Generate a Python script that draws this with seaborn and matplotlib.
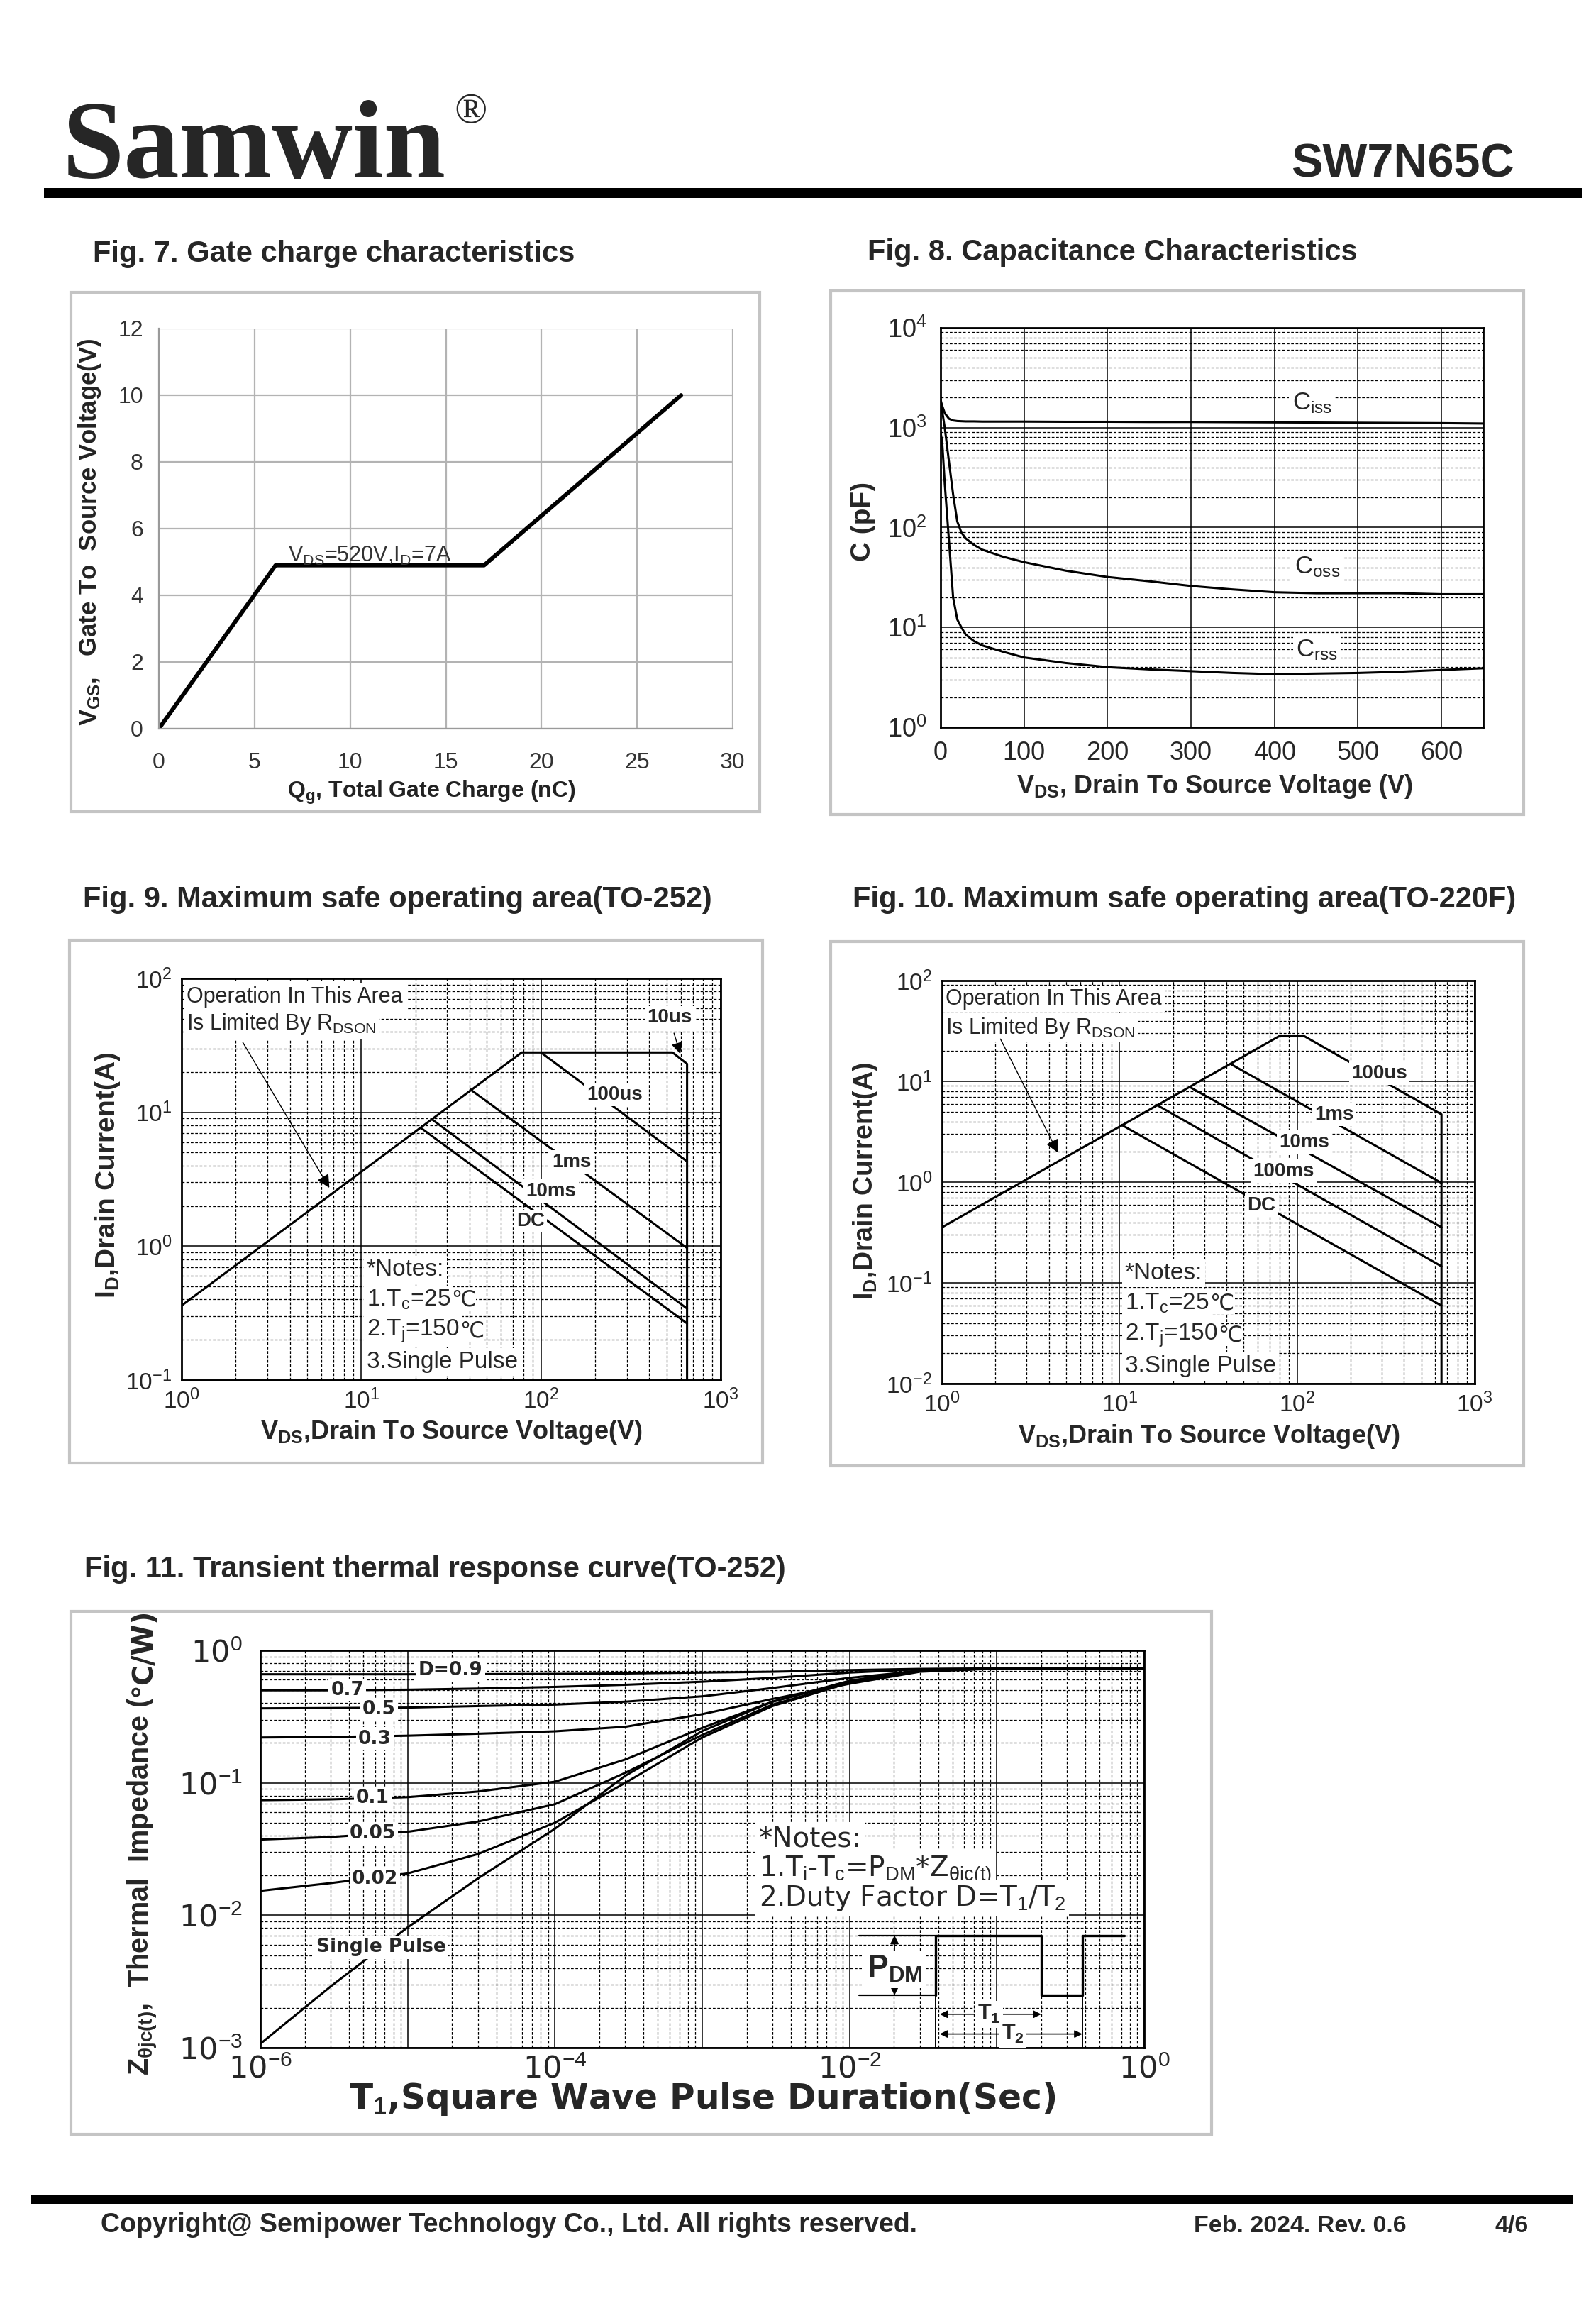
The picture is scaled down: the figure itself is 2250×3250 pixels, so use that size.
import numpy as np
import pandas as pd
import matplotlib
matplotlib.use("Agg")
import matplotlib.pyplot as plt
import seaborn as sns
from matplotlib import font_manager
from matplotlib.patches import Rectangle
from matplotlib.ticker import LogLocator, NullFormatter

# ---------------- data ----------------
# Fig. 7 gate charge
qg_nc = [0, 6.1, 17.0, 27.3]
vgs_v = [0, 4.9, 4.9, 10.0]

# Fig. 8 capacitance
vds_cap = [0, 2, 5, 10, 15, 20, 25, 30, 40, 50, 75, 100, 150, 200, 250, 300, 350, 400, 450, 500, 550, 600, 650]
ciss_pf = [1900, 1650, 1400, 1230, 1180, 1165, 1160, 1155, 1155, 1150, 1150, 1150, 1145, 1145, 1140, 1140,
           1135, 1130, 1125, 1120, 1115, 1110, 1100]
coss_pf = [1800, 1450, 1000, 460, 215, 115, 89, 78, 67, 60, 51, 45, 37, 32, 29, 26, 24, 22.5, 22, 22, 22, 21.5, 21.5]
crss_pf = [900, 700, 275, 75, 20, 12, 10, 8.5, 7.3, 6.6, 5.7, 5.0, 4.4, 4.0, 3.8, 3.65, 3.5, 3.4, 3.45, 3.5,
           3.6, 3.75, 3.9]

# Fig. 9 SOA TO-252
soa9_env_v = [1, 78, 540, 650, 650]
soa9_env_i = [0.36, 28, 28, 23, 0.1]
soa9_100us = ([100, 650], [28, 4.3])
soa9_1ms = ([40.5, 650], [14.8, 0.97])
soa9_10ms = ([24.7, 650], [8.87, 0.342])
soa9_dc = ([21.6, 650], [7.6, 0.265])

# Fig. 10 SOA TO-220F
soa10_env_v = [1, 79, 110, 650, 650]
soa10_env_i = [0.356, 28, 28, 4.7, 0.01]
soa10_1ms = ([42.7, 650], [14.7, 0.98])
soa10_10ms = ([24.8, 650], [8.8, 0.356])
soa10_100ms = ([16.4, 650], [5.76, 0.146])
soa10_dc = ([10.26, 650], [3.7, 0.0594])

# Fig. 11 transient thermal impedance
t_sec = [1e-6, 3e-6, 1e-5, 3e-5, 1e-4, 3e-4, 1e-3, 3e-3, 1e-2, 3e-2, 1e-1, 3e-1, 1.0]
zth_d09 = [0.66, 0.66, 0.66, 0.662, 0.665, 0.67, 0.68, 0.69, 0.71, 0.725, 0.73, 0.73, 0.73]
zth_d07 = [0.50, 0.50, 0.505, 0.515, 0.53, 0.55, 0.58, 0.62, 0.68, 0.72, 0.73, 0.73, 0.73]
zth_d05 = [0.365, 0.367, 0.37, 0.38, 0.39, 0.41, 0.45, 0.52, 0.62, 0.70, 0.73, 0.73, 0.73]
zth_d03 = [0.22, 0.222, 0.227, 0.235, 0.245, 0.265, 0.33, 0.43, 0.56, 0.69, 0.73, 0.73, 0.73]
zth_d01 = [0.074, 0.075, 0.078, 0.086, 0.102, 0.15, 0.26, 0.41, 0.59, 0.71, 0.73, 0.73, 0.73]
zth_d005 = [0.0373, 0.039, 0.0427, 0.051, 0.069, 0.119, 0.23, 0.39, 0.57, 0.70, 0.73, 0.73, 0.73]
zth_d002 = [0.0153, 0.0175, 0.0207, 0.029, 0.050, 0.10, 0.22, 0.38, 0.57, 0.70, 0.73, 0.73, 0.73]
zth_single = [1.07e-3, 2.9e-3, 8.1e-3, 0.019, 0.045, 0.113, 0.246, 0.41, 0.58, 0.70, 0.73, 0.73, 0.73]

# pulse sketch in fig. 11 (time, Z levels)
pulse_t = [0.0386, 0.0386, 0.20, 0.20, 0.38, 0.38, 0.73]
pulse_lo, pulse_hi = 2.49e-3, 7.05e-3
pulse_z = [pulse_lo, pulse_hi, pulse_hi, pulse_lo, pulse_lo, pulse_hi, pulse_hi]

lin_ticks_7x = [0, 5, 10, 15, 20, 25, 30]
lin_ticks_7y = [0, 2, 4, 6, 8, 10, 12]
cap_ticks_x = [0, 100, 200, 300, 400, 500, 600]
cap_ticks_y = [1, 10, 100, 1000, 10000]
cap_labels_y = ['10$^{0}$', '10$^{1}$', '10$^{2}$', '10$^{3}$', '10$^{4}$']
soa_ticks_x = [1, 10, 100, 1000]
soa_labels_x = ['10$^{0}$', '10$^{1}$', '10$^{2}$', '10$^{3}$']
soa9_ticks_y = [0.1, 1, 10, 100]
soa9_labels_y = ['10$^{-1}$', '10$^{0}$', '10$^{1}$', '10$^{2}$']
soa10_ticks_y = [0.01, 0.1, 1, 10, 100]
soa10_labels_y = ['10$^{-2}$', '10$^{-1}$', '10$^{0}$', '10$^{1}$', '10$^{2}$']
zth_ticks_x = [1e-6, 1e-5, 1e-4, 1e-3, 1e-2, 1e-1, 1]
zth_labels_x = ['10$^{-6}$', '', '10$^{-4}$', '', '10$^{-2}$', '', '10$^{0}$']
zth_ticks_y = [1e-3, 1e-2, 1e-1, 1]
zth_labels_y = ['10$^{-3}$', '10$^{-2}$', '10$^{-1}$', '10$^{0}$']

# ---------------- style ----------------
sns.set_theme(style="white")
FAMILY = ['Liberation Sans', 'DejaVu Sans', 'Noto Sans CJK SC']
plt.rcParams['font.family'] = FAMILY
plt.rcParams.update({
    'mathtext.fontset': 'custom',
    'mathtext.rm': 'Liberation Sans',
    'mathtext.it': 'Liberation Sans:italic',
    'mathtext.bf': 'Liberation Sans:bold',
    'mathtext.sf': 'Liberation Sans',
    'mathtext.fallback': 'stix',
})

names = {f.name for f in font_manager.fontManager.ttflist}
HAS_NARROW = 'Liberation Sans Narrow' in names
NARROW = ['Liberation Sans Narrow'] + FAMILY if HAS_NARROW else FAMILY
CELSIUS_FAM = ['DejaVu Sans', 'Noto Sans CJK SC']


def nsz(size):
    return size * 1.2 if HAS_NARROW else size


W, H = 2250, 3250
fig = plt.figure(figsize=(W / 100, H / 100), dpi=100)
fig.patch.set_facecolor('white')


def px_axes(l, t, r, b):
    return fig.add_axes([l / W, 1 - b / H, (r - l) / W, (b - t) / H])


def ftext(x, y, s, **kw):
    return fig.text(x / W, 1 - y / H, s, **kw)


def frame(l, t, r, b, **kw):
    fig.add_artist(Rectangle((l / W, 1 - b / H), (r - l) / W, (b - t) / H,
                             transform=fig.transFigure, **kw))


WHITE = dict(boxstyle='square,pad=0.12', fc='white', ec='none')

# ---------------- header / footer ----------------
ftext(88, 250, "Samwin", family='Liberation Serif', fontweight='bold', fontsize=113, va='baseline')
ftext(640, 130, "®", family='Liberation Serif', fontsize=44, va='top')
ftext(2135, 250, "SW7N65C", family=NARROW, fontweight='bold', fontsize=nsz(48), ha='right', va='baseline')
frame(62, 265, 2230, 279, fc='black', ec='none')
frame(44, 3093, 2217, 3106, fc='black', ec='none')
ftext(142, 3146, "Copyright@ Semipower Technology Co., Ltd. All rights reserved.", family=NARROW,
      fontweight='bold', fontsize=nsz(27), va='baseline')
ftext(1683, 3146, "Feb. 2024. Rev. 0.6", family=NARROW, fontweight='bold', fontsize=nsz(24.5), va='baseline')
ftext(2108, 3146, "4/6", family=NARROW, fontweight='bold', fontsize=nsz(24.5), va='baseline')

# panel titles
ftext(131, 369, "Fig. 7. Gate charge characteristics", fontsize=30, fontweight='bold', va='baseline')
ftext(1223, 367, "Fig. 8. Capacitance Characteristics", fontsize=30, fontweight='bold', va='baseline')
ftext(117, 1279, "Fig. 9. Maximum safe operating area(TO-252)", fontsize=30, fontweight='bold', va='baseline')
ftext(1202, 1279, "Fig. 10. Maximum safe operating area(TO-220F)", fontsize=30, fontweight='bold', va='baseline')
ftext(119, 2223, "Fig. 11. Transient thermal response curve(TO-252)", fontsize=30, fontweight='bold', va='baseline')

# panel frames
for box in [(100, 412, 1071, 1144), (1171, 410, 2148, 1148), (98, 1325, 1075, 2062),
            (1171, 1327, 2148, 2066), (100, 2271, 1708, 3008)]:
    frame(*box, fill=False, ec='#c4c4c4', lw=3)

# ---------------- Fig. 7 ----------------
ax7 = px_axes(224, 463, 1033, 1027)
sns.lineplot(x=qg_nc, y=vgs_v, ax=ax7, color='black', lw=4.2, sort=False, estimator=None)
ax7.set_xlim(0, 30)
ax7.set_ylim(0, 12)
ax7.set_xticks(lin_ticks_7x)
ax7.set_yticks(lin_ticks_7y)
ax7.grid(True, color='#b3b3b3', lw=1.6)
for side, sp in ax7.spines.items():
    sp.set_visible(side in ('left', 'bottom'))
    sp.set_color('#9a9a9a')
    sp.set_linewidth(1.6)
ax7.tick_params(axis='x', length=0, pad=24, labelsize=nsz(23), labelcolor='#333333')
ax7.tick_params(axis='y', length=0, pad=16, labelsize=nsz(23), labelcolor='#333333')
for lbl in ax7.get_xticklabels() + ax7.get_yticklabels():
    lbl.set_family(NARROW)
ax7.set_xlabel('')
ax7.set_ylabel('')
ax7.text(6.75, 5.0, r"V$_{\rm DS}$=520V,I$_{\rm D}$=7A", family=NARROW, fontsize=nsz(22),
         color='#333333', va='baseline')
ftext(608, 1117, r"Q$_{\mathbf{g}}$, Total Gate Charge (nC)", family=NARROW, fontweight='bold',
      fontsize=nsz(23), ha='center', va='center', color='#222222')
ftext(127, 750, r"V$_{\mathbf{GS}}$,   Gate To  Source Voltage(V)", family=NARROW, fontweight='bold',
      fontsize=nsz(25), rotation=90, ha='center', va='center', color='#222222')


def log_style(ax, lw=2):
    for sp in ax.spines.values():
        sp.set_color('black')
        sp.set_linewidth(lw)
    ax.tick_params(which='major', direction='in', length=12, width=1.5, color='black')
    ax.tick_params(which='minor', direction='in', length=7, width=1.2, color='black')
    ax.set_xlabel('')
    ax.set_ylabel('')


def add_celsius(ax, t, size):
    # the degree-Celsius sign is missing from the math fonts, so it is appended as plain text
    ax.annotate("℃", xy=(1, 0.5), xycoords=t, xytext=(0.5, 0), textcoords='offset points',
                ha='left', va='center', fontsize=size, family=CELSIUS_FAM,
                bbox=dict(boxstyle='square,pad=0.02', fc='white', ec='none'))


# ---------------- Fig. 8 ----------------
ax8 = px_axes(1326, 462, 2091, 1025)
ax8.set_yscale('log')
df8 = pd.DataFrame({'V': vds_cap, 'Ciss': ciss_pf, 'Coss': coss_pf, 'Crss': crss_pf}).melt(
    'V', var_name='cap', value_name='C')
sns.lineplot(data=df8, x='V', y='C', units='cap', estimator=None, color='black', lw=2.2,
             ax=ax8, legend=False, sort=False)
ax8.set_xlim(0, 650)
ax8.set_ylim(1, 1e4)
ax8.set_xticks(cap_ticks_x, labels=[str(v) for v in cap_ticks_x], fontsize=26)
ax8.set_xticks(list(range(50, 650, 100)), minor=True)
ax8.set_yticks(cap_ticks_y, labels=cap_labels_y, fontsize=26)
ax8.yaxis.set_minor_locator(LogLocator(base=10, subs=np.arange(2, 10), numticks=50))
ax8.yaxis.set_minor_formatter(NullFormatter())
ax8.grid(which='major', color='black', lw=1.1)
ax8.grid(which='minor', axis='y', color='black', lw=0.9, ls=(0, (3, 2)))
log_style(ax8)
ax8.tick_params(axis='x', pad=14)
ax8.tick_params(axis='y', pad=14)
ax8.text(445, 1760, r"C$_{\rm iss}$", fontsize=25, ha='center', va='center', bbox=WHITE)
ax8.text(451, 40, r"C$_{\rm oss}$", fontsize=25, ha='center', va='center', bbox=WHITE)
ax8.text(451, 5.9, r"C$_{\rm rss}$", fontsize=25, ha='center', va='center', bbox=WHITE)
ftext(1217, 735, "C (pF)", fontsize=28, fontweight='bold', rotation=90, ha='center', va='center')
ftext(1712, 1108, r"V$_{\mathbf{DS}}$, Drain To Source Voltage (V)", fontsize=26, fontweight='bold',
      ha='center', va='center')


# ---------------- Fig. 9 / 10 ----------------
def soa_axes(ax, env_v, env_i, segs, yticks, ylabels, ymin):
    ax.set_xscale('log')
    ax.set_yscale('log')
    sns.lineplot(x=env_v, y=env_i, ax=ax, color='black', lw=2.2, sort=False, estimator=None)
    for v, i in segs:
        sns.lineplot(x=v, y=i, ax=ax, color='black', lw=2.2, sort=False, estimator=None)
    ax.set_xlim(1, 1000)
    ax.set_ylim(ymin, 100)
    ax.set_xticks(soa_ticks_x, labels=soa_labels_x, fontsize=nsz(24), family=NARROW)
    ax.set_yticks(yticks, labels=ylabels, fontsize=nsz(24), family=NARROW)
    for axis in (ax.xaxis, ax.yaxis):
        axis.set_minor_locator(LogLocator(base=10, subs=np.arange(2, 10), numticks=50))
        axis.set_minor_formatter(NullFormatter())
    ax.grid(which='major', color='black', lw=1.1)
    ax.grid(which='minor', color='black', lw=0.9, ls=(0, (3, 2)))
    log_style(ax)
    ax.tick_params(axis='x', pad=9)
    ax.tick_params(axis='y', pad=10)


def soa_notes(ax, x, ys):
    ax.text(x, ys[0], "*Notes:", fontsize=24, va='center', ha='left', bbox=WHITE)
    t1 = ax.text(x, ys[1], "1.T$_{\\rm c}$=25", fontsize=24, va='center', ha='left', bbox=WHITE)
    add_celsius(ax, t1, 22)
    t2 = ax.text(x, ys[2], "2.T$_{\\rm j}$=150", fontsize=24, va='center', ha='left', bbox=WHITE)
    add_celsius(ax, t2, 22)
    ax.text(x, ys[3], "3.Single Pulse", fontsize=24, va='center', ha='left', bbox=WHITE)


ax9 = px_axes(256, 1379, 1016, 1945)
soa_axes(ax9, soa9_env_v, soa9_env_i, [soa9_100us, soa9_1ms, soa9_10ms, soa9_dc],
         soa9_ticks_y, soa9_labels_y, 0.1)
ax9.text(1.07, 73, "Operation In This Area", fontsize=22, va='center', bbox=WHITE)
ax9.text(1.07, 45.7, r"Is Limited By R$_{\rm DSON}$", fontsize=22, va='center', bbox=WHITE)
ax9.annotate('', xy=(6.73, 2.65), xytext=(2.16, 34.4),
             arrowprops=dict(arrowstyle='-|>', color='black', lw=1.0, mutation_scale=28))
ax9.annotate('10us', xy=(600, 26.5), xytext=(518, 50.9), fontsize=20, fontweight='bold',
             ha='center', va='center', bbox=WHITE,
             arrowprops=dict(arrowstyle='-|>', color='black', lw=1.0, mutation_scale=24, shrinkA=4))
for s, xy in [("100us", (257, 13.5)), ("1ms", (148, 4.25)), ("10ms", (114, 2.58)), ("DC", (87.5, 1.54))]:
    ax9.text(*xy, s, fontsize=20, fontweight='bold', ha='center', va='center', bbox=WHITE)
soa_notes(ax9, 10.7, [0.664, 0.398, 0.231, 0.137])
ftext(152, 1656, r"I$_{\mathbf{D}}$,Drain Current(A)", fontsize=28, fontweight='bold', rotation=90,
      ha='center', va='center')
ftext(636, 2018, r"V$_{\mathbf{DS}}$,Drain To Source Voltage(V)", fontsize=26, fontweight='bold',
      ha='center', va='center')

ax10 = px_axes(1328, 1382, 2079, 1950)
soa_axes(ax10, soa10_env_v, soa10_env_i, [soa10_1ms, soa10_10ms, soa10_100ms, soa10_dc],
         soa10_ticks_y, soa10_labels_y, 0.01)
ax10.text(1.05, 66, "Operation In This Area", fontsize=22, va='center', bbox=WHITE)
ax10.text(1.05, 34, r"Is Limited By R$_{\rm DSON}$", fontsize=22, va='center', bbox=WHITE)
ax10.annotate('', xy=(4.55, 1.88), xytext=(2.11, 27.4),
              arrowprops=dict(arrowstyle='-|>', color='black', lw=1.0, mutation_scale=28))
for s, xy in [("100us", (290, 12)), ("1ms", (161, 4.7)), ("10ms", (110, 2.49)),
              ("100ms", (84, 1.28)), ("DC", (62.7, 0.59))]:
    ax10.text(*xy, s, fontsize=20, fontweight='bold', ha='center', va='center', bbox=WHITE)
soa_notes(ax10, 10.7, [0.124, 0.063, 0.030, 0.0149])
ftext(1220, 1664, r"I$_{\mathbf{D}}$,Drain Current(A)", fontsize=27, fontweight='bold', rotation=90,
      ha='center', va='center')
ftext(1704, 2025, r"V$_{\mathbf{DS}}$,Drain To Source Voltage(V)", fontsize=26, fontweight='bold',
      ha='center', va='center')

# ---------------- Fig. 11 ----------------
ax11 = px_axes(367, 2326, 1613, 2886)
ax11.set_xscale('log')
ax11.set_yscale('log')
df11 = pd.DataFrame({'t': t_sec, '0.9': zth_d09, '0.7': zth_d07, '0.5': zth_d05, '0.3': zth_d03,
                     '0.1': zth_d01, '0.05': zth_d005, '0.02': zth_d002, 'single': zth_single})
df11 = df11.melt('t', var_name='duty', value_name='z')
sns.lineplot(data=df11, x='t', y='z', units='duty', estimator=None, color='black', lw=2.2,
             ax=ax11, legend=False, sort=False)
ax11.set_xlim(1e-6, 1)
ax11.set_ylim(1e-3, 1)
ax11.set_xticks(zth_ticks_x, labels=zth_labels_x, fontsize=31, family='DejaVu Sans')
ax11.set_yticks(zth_ticks_y, labels=zth_labels_y, fontsize=31, family='DejaVu Sans')
for axis in (ax11.xaxis, ax11.yaxis):
    axis.set_minor_locator(LogLocator(base=10, subs=np.arange(2, 10), numticks=80))
    axis.set_minor_formatter(NullFormatter())
ax11.grid(which='major', color='black', lw=1.1)
ax11.grid(which='minor', color='black', lw=0.9, ls=(0, (3, 2)))
log_style(ax11)
ax11.tick_params(axis='x', pad=7)
ax11.tick_params(axis='y', pad=18)

WIDE_B = dict(family='DejaVu Sans', fontweight='bold', fontsize=19, ha='center', va='center', bbox=WHITE)
for s, xy in [("D=0.9", (1.96e-5, 0.708)), ("0.7", (3.9e-6, 0.502)), ("0.5", (6.4e-6, 0.358)),
              ("0.3", (6.0e-6, 0.215)), ("0.1", (5.8e-6, 0.0771)), ("0.05", (5.8e-6, 0.0414)),
              ("0.02", (6.0e-6, 0.0189)), ("Single Pulse", (6.6e-6, 5.74e-3))]:
    ax11.text(*xy, s, **WIDE_B)

note_kw = dict(family='DejaVu Sans', fontsize=28, ha='left', va='center', bbox=WHITE)
ax11.text(2.43e-3, 0.0378, "*Notes:", **note_kw)
ax11.text(2.43e-3, 0.0219, r"1.T$_{\rm j}$-T$_{\rm c}$=P$_{\rm DM}$*Z$_{\rm θjc(t)}$", **note_kw)
ax11.text(2.43e-3, 0.0135, r"2.Duty Factor D=T$_{\rm 1}$/T$_{\rm 2}$", **note_kw)

# pulse sketch
ax11.plot(pulse_t, pulse_z, color='black', lw=2.4)
ax11.plot([0.0116, 0.0386], [pulse_hi, pulse_hi], color='black', lw=1.6)
ax11.plot([0.0116, 0.0386], [pulse_lo, pulse_lo], color='black', lw=1.6)
ax11.plot([0.0386, 0.0386], [pulse_lo, 1e-3], color='black', lw=1.4)
ax11.plot([0.38, 0.38], [pulse_lo, 1e-3], color='black', lw=1.4)
ax11.annotate('', xy=(0.0202, pulse_hi), xytext=(0.0202, pulse_lo),
              arrowprops=dict(arrowstyle='<|-|>', color='black', lw=1.2, mutation_scale=18,
                              shrinkA=0, shrinkB=0))
ax11.text(0.0202, 3.92e-3, r"P$_{\mathbf{DM}}$", fontsize=32, fontweight='bold', ha='center',
          va='center', bbox=WHITE)
ax11.annotate('', xy=(0.20, 1.79e-3), xytext=(0.041, 1.79e-3),
              arrowprops=dict(arrowstyle='<|-|>', color='black', lw=1.2, mutation_scale=16,
                              shrinkA=0, shrinkB=0))
ax11.text(0.088, 1.79e-3, r"T$_{\mathbf{1}}$", fontsize=22, fontweight='bold', ha='center',
          va='center', bbox=WHITE)
ax11.annotate('', xy=(0.38, 1.27e-3), xytext=(0.041, 1.27e-3),
              arrowprops=dict(arrowstyle='<|-|>', color='black', lw=1.2, mutation_scale=16,
                              shrinkA=0, shrinkB=0))
ax11.text(0.128, 1.27e-3, r"T$_{\mathbf{2}}$", fontsize=22, fontweight='bold', ha='center',
          va='center', bbox=WHITE)

zl = ftext(202, 2925, r"Z$_{\mathbf{θjc(t)}}$,  Thermal  Impedance (", family=NARROW, fontweight='bold',
           fontsize=nsz(28.5), rotation=90, ha='center', va='bottom')
ax11.annotate("℃/W)", xy=(0.5, 1.0), xycoords=zl, ha='center', va='bottom', rotation=90,
              fontsize=nsz(28.5), fontweight='bold', family=CELSIUS_FAM, annotation_clip=False)
ftext(990, 2958, r"T$_{\mathbf{1}}$,Square Wave Pulse Duration(Sec)", family='DejaVu Sans',
      fontweight='bold', fontsize=35, ha='center', va='center')

fig.savefig("out.png", dpi=100, facecolor='white')
print("[SAVED] out.png")
